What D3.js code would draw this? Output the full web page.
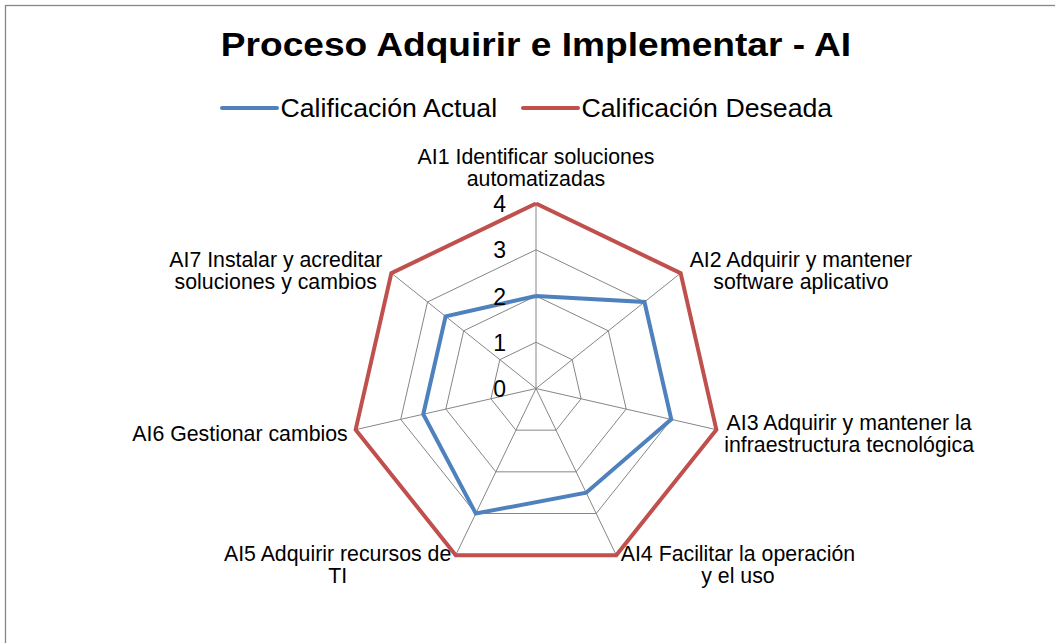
<!DOCTYPE html>
<html>
<head>
<meta charset="utf-8">
<script src="https://cdn.jsdelivr.net/npm/d3@7"></script>
<style>
  body { margin: 0; background: #fff; }
  text { font-family: "Liberation Sans", Arial, sans-serif; fill: #000; }
</style>
</head>
<body>
<div id="chart"></div>
<script>
var categories = [
    ['AI1 Identificar soluciones', 'automatizadas'],
    ['AI2 Adquirir y mantener', 'software aplicativo'],
    ['AI3 Adquirir y mantener la', 'infraestructura tecnológica'],
    ['AI4 Facilitar la operación', 'y el uso'],
    ['AI5 Adquirir recursos de', 'TI'],
    ['AI6 Gestionar cambios'],
    ['AI7 Instalar y acreditar', 'soluciones y cambios']
];
var actual = [2, 3, 3, 2.5, 3, 2.5, 2.5];
var deseada = [4, 4, 4, 4, 4, 4, 4];
var ticks = [0, 1, 2, 3, 4];
var series_names = ['Calificación Actual', 'Calificación Deseada'];
var series_colors = ['#4F81BD', '#C0504D'];

var W = 1055, H = 643;
var cx = 536, cy = 388.5;

var svg = d3.select('#chart').append('svg')
    .attr('width', W)
    .attr('height', H);

// chart area border (runs off the right/bottom edge)
svg.append('rect')
    .attr('x', 5.5).attr('y', 5.5)
    .attr('width', 1200).attr('height', 800)
    .attr('fill', '#fff')
    .attr('stroke', '#868686')
    .attr('stroke-width', 1.3);

svg.append('text')
    .attr('x', cx).attr('y', 56.5)
    .attr('text-anchor', 'middle')
    .attr('font-size', 33)
    .attr('font-weight', 'bold')
    .attr('transform', 'translate(' + cx + ',0) scale(1.125,1) translate(' + (-cx) + ',0)')
    .text('Proceso Adquirir e Implementar - AI');

// legend
var legend_x = [222, 523];
series_names.forEach(function(name, i) {
    var g = svg.append('g');
    g.append('line')
        .attr('x1', legend_x[i]).attr('x2', legend_x[i] + 55)
        .attr('y1', 108).attr('y2', 108)
        .attr('stroke', series_colors[i])
        .attr('stroke-width', 4)
        .attr('stroke-linecap', 'round');
    g.append('text')
        .attr('x', legend_x[i] + 58.5).attr('y', 116.5)
        .attr('font-size', 26.7)
        .text(name);
});

var n = categories.length;
var r = d3.scaleLinear().domain([0, 4]).range([0, 185]);
var angle = d3.scalePoint().domain(d3.range(n + 1)).range([0, 2 * Math.PI]);

function px(i, v) { return cx + r(v) * Math.sin(angle(i % n)); }
function py(i, v) { return cy - r(v) * Math.cos(angle(i % n)); }

var grid = svg.append('g');
ticks.slice(1).forEach(function(t) {
    grid.append('path')
        .attr('d', d3.line()(d3.range(n + 1).map(function(i) { return [px(i, t), py(i, t)]; })))
        .attr('fill', 'none')
        .attr('stroke', '#868686')
        .attr('stroke-width', 1);
});
d3.range(n).forEach(function(i) {
    grid.append('line')
        .attr('x1', cx).attr('y1', cy)
        .attr('x2', px(i, 4)).attr('y2', py(i, 4))
        .attr('stroke', '#868686')
        .attr('stroke-width', 1);
});

[actual, deseada].forEach(function(vals, s) {
    var pts = vals.map(function(v, i) { return [px(i, v), py(i, v)]; });
    pts.push(pts[0]);
    svg.append('path')
        .attr('d', d3.line()(pts))
        .attr('fill', 'none')
        .attr('stroke', series_colors[s])
        .attr('stroke-width', 4)
        .attr('stroke-linejoin', 'miter');
});

// value axis labels
ticks.forEach(function(t) {
    svg.append('text')
        .attr('x', cx - 30).attr('y', cy - r(t) + 8.5)
        .attr('text-anchor', 'end')
        .attr('font-size', 23)
        .text(t);
});

// category labels
var lh = 22;
categories.forEach(function(lines, i) {
    var a = angle(i);
    var s = Math.sin(a), c = Math.cos(a);
    var vx = px(i, 4), vy = py(i, 4);
    var g = svg.append('g');
    var texts = lines.map(function(l) {
        return g.append('text').attr('font-size', 21.3).text(l);
    });
    var widths = texts.map(function(t) { return t.node().getComputedTextLength(); });
    var bw = d3.max(widths);
    var pad = 9 + 5 * Math.min(0, c);
    var center_x;
    if (Math.abs(s) < 0.1) center_x = vx;
    else if (s > 0) center_x = vx + pad + bw / 2;
    else center_x = vx - pad - bw / 2;
    var center_y;
    if (c > 0.9) center_y = vy - lines.length * lh / 2 - 14;
    else center_y = vy - 8 * c + 2.5;
    texts.forEach(function(t, k) {
        t.attr('x', center_x)
            .attr('text-anchor', 'middle')
            .attr('y', center_y - (lines.length - 1) * lh / 2 + k * lh + 7.5);
    });
});
</script>
</body>
</html>
